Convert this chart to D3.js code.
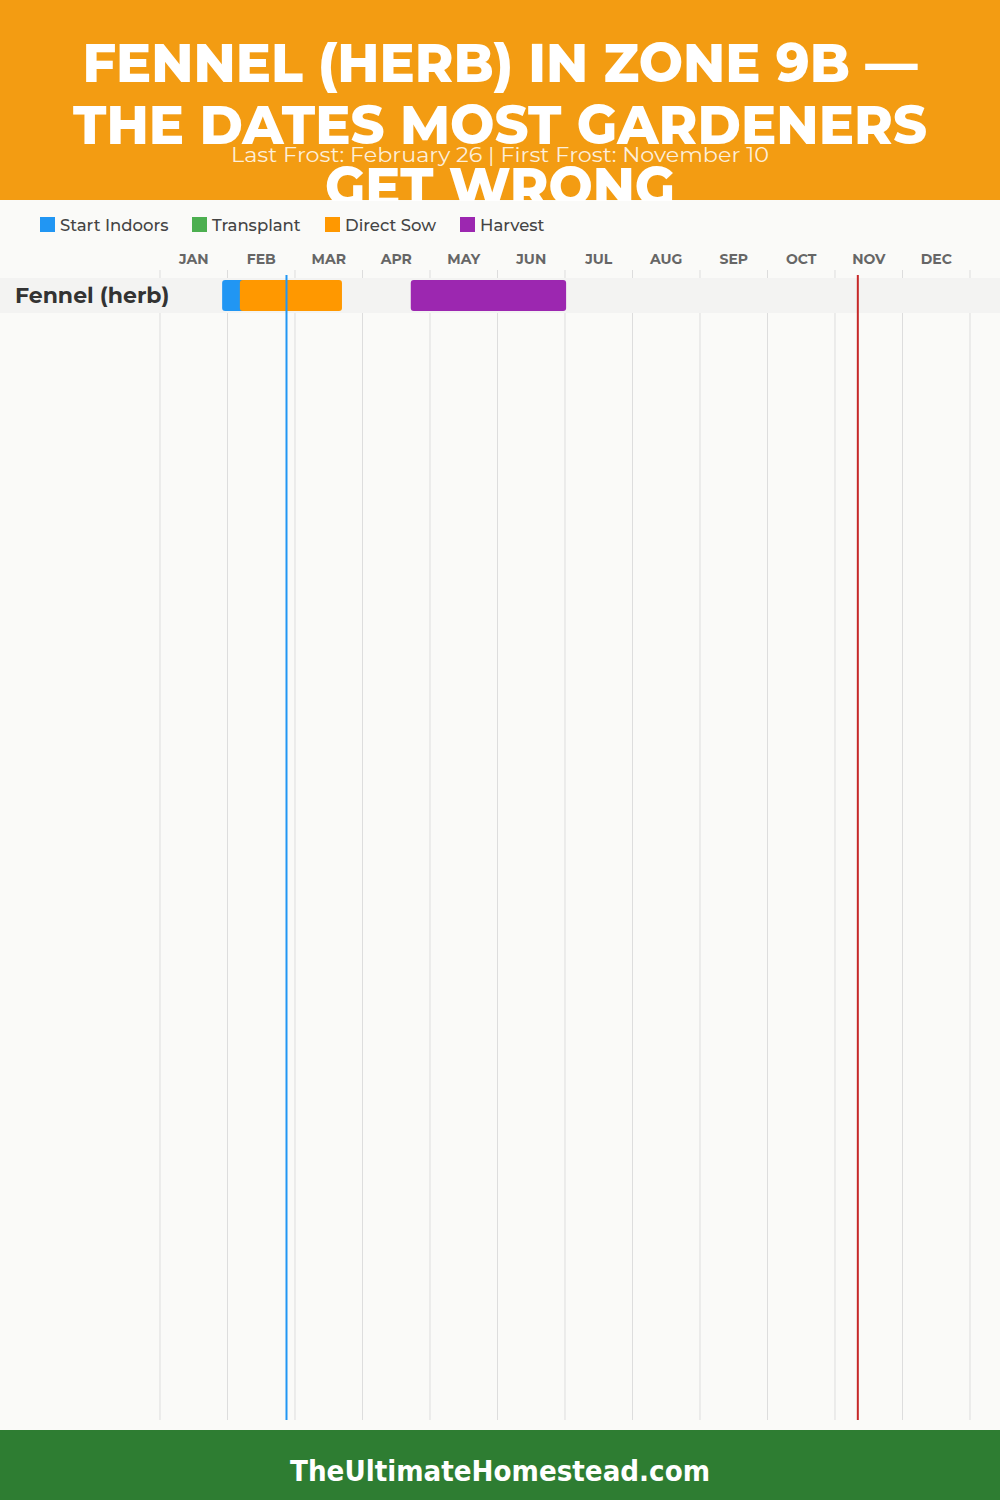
<!DOCTYPE html>
<html><head><meta charset="utf-8">
<script src="https://cdn.jsdelivr.net/npm/d3@7"></script>
<style>body{margin:0;padding:0;background:#fafaf8;}svg{display:block;}</style>
</head><body>
<svg id="chart" width="1000" height="1500"></svg>
<script>
const titleLines = ["FENNEL (HERB) IN ZONE 9B —", "THE DATES MOST GARDENERS", "GET WRONG"];
const subtitle = "Last Frost: February 26 | First Frost: November 10";
const months = ["JAN","FEB","MAR","APR","MAY","JUN","JUL","AUG","SEP","OCT","NOV","DEC"];
const legendLabels = ["Start Indoors","Transplant","Direct Sow","Harvest"];
const legendColors = ["#2196F3","#4CAF50","#FF9800","#9C27B0"];
const crops = ["Fennel (herb)"];
// periods: [crop, type, start, end]
const periodCrop  = ["Fennel (herb)","Fennel (herb)","Fennel (herb)"];
const periodType  = ["Start Indoors","Direct Sow","Harvest"];
const periodStart = ["2023-01-28","2023-02-05","2023-04-23"];
const periodEnd   = ["2023-02-12","2023-03-23","2023-07-02"];
const lastFrost = "2023-02-26";
const firstFrost = "2023-11-10";
const footerText = "TheUltimateHomestead.com";

const svg = d3.select("#chart");
const W = 1000, H = 1500;
const parse = d3.timeParse("%Y-%m-%d");
const yearStart = new Date(2023,0,1);
const doy = s => d3.timeDay.count(yearStart, parse(s)) + 1;

const x0 = 160, x1 = 970;
const xDay = d3.scaleLinear().domain([0,365]).range([x0,x1]);
const xMonth = d3.scaleLinear().domain([0,12]).range([x0,x1]);
const color = d3.scaleOrdinal().domain(legendLabels).range(legendColors);
const yRow = d3.scaleBand().domain(crops).range([278, 278 + 35*crops.length]).paddingInner(0);

svg.append("rect").attr("width",W).attr("height",H).attr("fill","#fafaf8");

// header
svg.append("rect").attr("x",0).attr("y",0).attr("width",W).attr("height",200).attr("fill","#F39C12");
const titleG = svg.append("g").attr("font-family","Montserrat, 'Open Sans', sans-serif").attr("font-weight",800).attr("fill","#fff").attr("text-anchor","middle");
const titleBase = [82, 144, 206];
const titleW = [835, 854, 350];
titleLines.forEach((t,i)=>{
  titleG.append("text").attr("x",500).attr("y",titleBase[i]).attr("font-size",54)
    .attr("textLength",titleW[i]).attr("lengthAdjust","spacingAndGlyphs").text(t);
});
svg.append("text").attr("x",500).attr("y",162).attr("text-anchor","middle")
  .attr("font-family","Montserrat, 'Open Sans', sans-serif").attr("font-size",20)
  .attr("fill","rgba(255,255,255,0.85)").attr("textLength",538).attr("lengthAdjust","spacingAndGlyphs").text(subtitle);

// chart background (covers bottom of title)
svg.append("rect").attr("x",0).attr("y",201).attr("width",W).attr("height",1229).attr("fill","#fafaf8");

// legend
const legX = [40,192,325,460];
const leg = svg.append("g").attr("font-family","Montserrat, 'Open Sans', sans-serif");
legendLabels.forEach((l,i)=>{
  leg.append("rect").attr("x",legX[i]).attr("y",217).attr("width",15).attr("height",15).attr("fill",color(l));
  leg.append("text").attr("x",legX[i]+20).attr("y",231).attr("font-size",16.5).attr("font-weight",500).attr("fill","#444").text(l);
});

// month labels
svg.append("g").selectAll("text").data(months).join("text")
  .attr("x",(d,i)=>xMonth(i+0.5)).attr("y",264).attr("text-anchor","middle")
  .attr("font-family","Montserrat, 'Open Sans', sans-serif").attr("font-weight",700)
  .attr("font-size",14).attr("fill","#666").text(d=>d);

// gridlines
svg.append("g").selectAll("line").data(d3.range(13)).join("line")
  .attr("x1",d=>xMonth(d)).attr("x2",d=>xMonth(d)).attr("y1",270).attr("y2",1420)
  .attr("stroke","#dddddd").attr("stroke-width",1);

// rows
const rows = svg.append("g");
crops.forEach(c=>{
  rows.append("rect").attr("x",0).attr("y",yRow(c)).attr("width",W).attr("height",yRow.bandwidth()).attr("fill","#f3f3f2");
  rows.append("text").attr("x",15).attr("y",yRow(c)+yRow.bandwidth()/2+7)
    .attr("font-family","Montserrat, 'Open Sans', sans-serif").attr("font-weight",700)
    .attr("font-size",22).attr("fill","#333").text(c);
});

// bars
periodType.forEach((t,i)=>{
  const c = periodCrop[i];
  const xs = xDay(doy(periodStart[i])), xe = xDay(doy(periodEnd[i]));
  svg.append("rect").attr("x",xs).attr("y",yRow(c)+2).attr("width",xe-xs).attr("height",yRow.bandwidth()-4)
    .attr("rx",3).attr("fill",color(t));
});

// frost lines
svg.append("line").attr("x1",xDay(doy(lastFrost))).attr("x2",xDay(doy(lastFrost)))
  .attr("y1",275).attr("y2",1420).attr("stroke","#2196F3").attr("stroke-width",2);
svg.append("line").attr("x1",xDay(doy(firstFrost))+1).attr("x2",xDay(doy(firstFrost))+1)
  .attr("y1",275).attr("y2",1420).attr("stroke","#C62828").attr("stroke-width",2);

// footer
svg.append("rect").attr("x",0).attr("y",1430).attr("width",W).attr("height",70).attr("fill","#2E7D32");
svg.append("text").attr("x",500).attr("y",1481).attr("text-anchor","middle")
  .attr("font-family","'DejaVu Sans Condensed', 'DejaVu Sans', sans-serif").attr("font-weight",700)
  .attr("font-size",28).attr("fill","#fff").attr("textLength",420).attr("lengthAdjust","spacingAndGlyphs").text(footerText);
</script>
</body></html>
